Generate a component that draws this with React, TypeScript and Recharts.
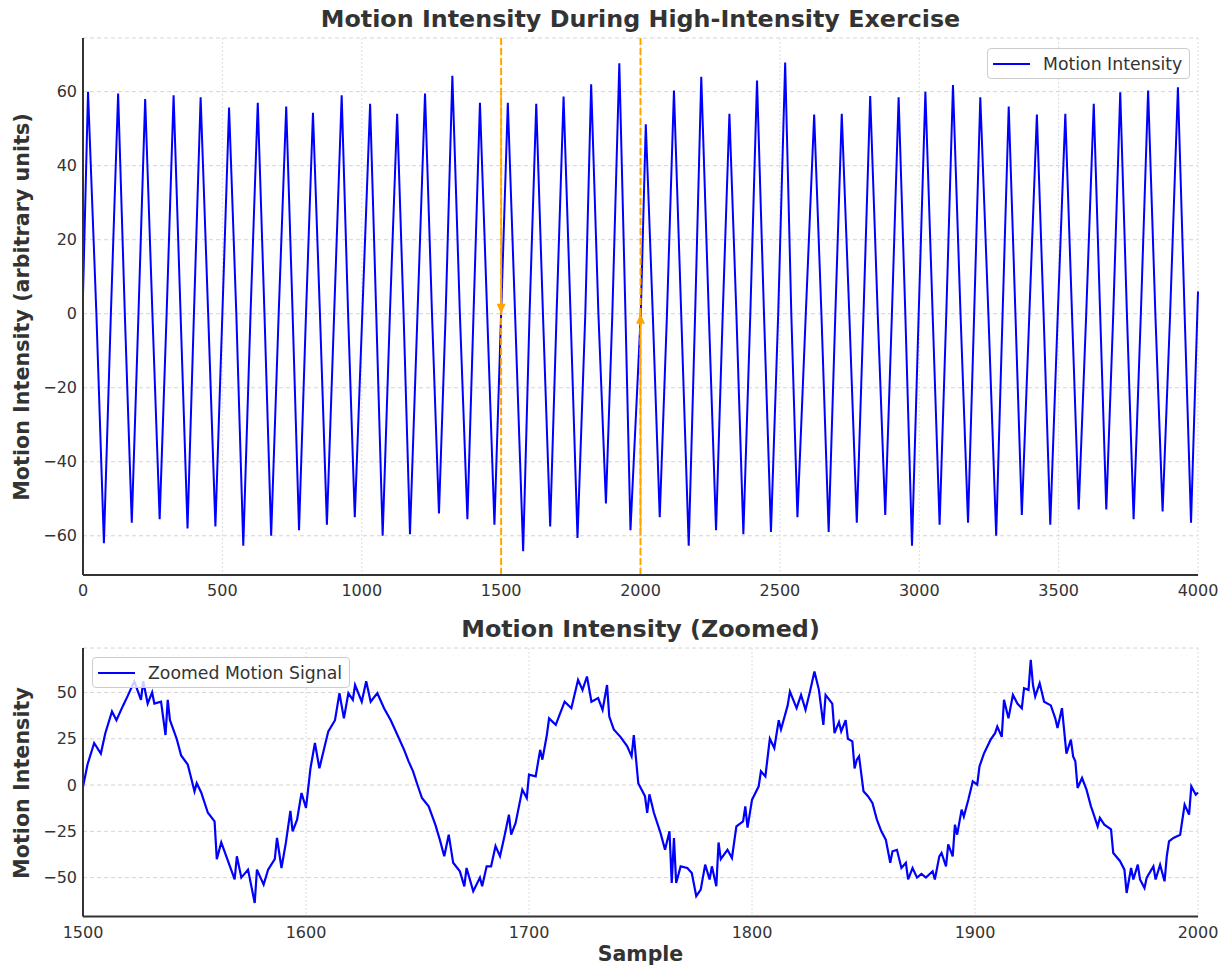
import React from 'react';
import {
  LineChart,
  Line,
  XAxis,
  YAxis,
  CartesianGrid,
  ReferenceLine,
  Legend,
} from 'recharts';

// Full session: one peak and one trough per stroke
const overviewPeakSample = [
  18, 126, 223, 325, 422, 524, 627, 729, 825, 928,
  1030, 1127, 1227, 1325, 1424, 1524, 1626, 1724, 1823, 1924,
  2019, 2120, 2218, 2319, 2418, 2519, 2623, 2722, 2824, 2926,
  3022, 3121, 3219, 3321, 3422, 3524, 3626, 3721, 3821, 3928,
];
const overviewPeakValue = [
  60, 59.5, 58, 59, 58.5, 55.7, 57, 56, 54.3, 59,
  56.7, 54, 59.5, 64.3, 57, 57, 56.7, 58.7, 62, 67.7,
  51.2, 60.3, 64, 54, 63, 67.9, 53.8, 54, 58.8, 58.5,
  60, 61.8, 58.5, 56, 53.8, 54, 56.7, 59.8, 60.3, 61.2,
];
const overviewTroughSample = [
  75, 175, 275, 375, 475, 575, 675, 775, 875, 975,
  1075, 1173, 1277, 1379, 1476, 1579, 1676, 1774, 1876, 1964,
  2069, 2173, 2271, 2369, 2468, 2563, 2675, 2776, 2878, 2974,
  3073, 3175, 3276, 3368, 3470, 3572, 3671, 3769, 3873, 3975,
];
const overviewTroughValue = [
  -62, -56.5, -55.5, -58, -57.5, -62.7, -60, -58.5, -57, -55,
  -60, -59.6, -54, -55.5, -57, -64.2, -57.5, -60.6, -51.3, -58.5,
  -55, -62.7, -58.5, -59.6, -59, -55, -59, -56.5, -54.4, -62.7,
  -57, -56.5, -60, -54.4, -57, -52.9, -52.9, -55.5, -53.4, -56.5,
];
// where the trace passes through zero between the extremes
const overviewZeroSample = [
  48, 100, 150, 199, 249, 300, 350, 398, 449, 500,
  550, 601, 651, 702, 752, 800, 850, 901, 951, 1002,
  1052, 1101, 1150, 1200, 1252, 1301, 1352, 1401, 1450, 1500,
  1550, 1602, 1650, 1699, 1749, 1802, 1849, 1899, 1946, 2001,
  2044, 2095, 2146, 2196, 2245, 2295, 2344, 2394, 2443, 2494,
  2541, 2593, 2649, 2699, 2749, 2800, 2851, 2902, 2950, 2998,
  3048, 3097, 3148, 3197, 3248, 3299, 3345, 3395, 3446, 3497,
  3548, 3599, 3649, 3696, 3745, 3795, 3847, 3900, 3952,
];
const overviewEndSample = [0, 4000];
const overviewEndValue = [5, 6];

// Zoomed window 1500-2000
const zoomSample = [
  1500, 1502, 1505, 1508, 1510, 1513, 1515, 1518, 1520, 1523,
  1526, 1527, 1529, 1531, 1532, 1535, 1537, 1538, 1539, 1542,
  1544, 1547, 1550, 1551, 1553, 1556, 1559, 1560, 1562, 1565,
  1568, 1569, 1571, 1574, 1577, 1578, 1581, 1583, 1586, 1587,
  1589, 1591, 1593, 1594, 1596, 1598, 1600, 1602, 1604, 1606,
  1608, 1610, 1613, 1615, 1617, 1619, 1621, 1622, 1625, 1627,
  1629, 1632, 1635, 1638, 1641, 1644, 1646, 1648, 1650, 1652,
  1655, 1658, 1660, 1662, 1664, 1666, 1669, 1671, 1672, 1675,
  1678, 1679, 1681, 1683, 1685, 1687, 1689, 1691, 1692, 1694,
  1697, 1699, 1700, 1703, 1705, 1706, 1708, 1709, 1712, 1714,
  1716, 1719, 1722, 1724, 1726, 1728, 1731, 1733, 1735, 1736,
  1738, 1741, 1744, 1746, 1747, 1749, 1752, 1753, 1754, 1756,
  1759, 1761, 1763, 1764, 1765, 1766, 1768, 1771, 1773, 1775,
  1777, 1779, 1781, 1782, 1784, 1785, 1786, 1789, 1791, 1793,
  1796, 1797, 1798, 1800, 1803, 1804, 1806, 1808, 1810, 1812,
  1813, 1816, 1817, 1820, 1822, 1824, 1826, 1828, 1830, 1832,
  1833, 1836, 1837, 1839, 1840, 1842, 1843, 1845, 1846, 1847,
  1848, 1850, 1852, 1854, 1856, 1858, 1860, 1862, 1863, 1865,
  1867, 1869, 1870, 1872, 1874, 1876, 1878, 1881, 1882, 1884,
  1885, 1887, 1888, 1890, 1891, 1892, 1894, 1895, 1897, 1899,
  1901, 1902, 1904, 1907, 1909, 1910, 1912, 1913, 1915, 1917,
  1919, 1921, 1922, 1924, 1925, 1926, 1927, 1929, 1931, 1934,
  1936, 1937, 1939, 1941, 1943, 1944, 1945, 1946, 1948, 1950,
  1952, 1953, 1955, 1956, 1958, 1961, 1962, 1965, 1967, 1968,
  1970, 1971, 1973, 1974, 1976, 1977, 1980, 1981, 1983, 1985,
  1986, 1987, 1989, 1992, 1994, 1996, 1997, 1999, 2000,
];
const zoomValue = [
  -1, 11, 22.7, 17, 28, 39.7, 35, 43, 48, 56,
  46, 56, 44, 50, 44, 45, 27, 46, 35, 25,
  16, 11, -3.4, 1, -4, -15, -19.6, -40, -31, -41,
  -51, -38.5, -50, -45.7, -63.7, -45.7, -53.8, -45.7, -40, -28.6,
  -44.8, -31, -14, -25, -18.7, -4.3, -12.4, 9, 22.7, 9,
  19, 29, 35, 49.6, 36, 49.6, 46, 54, 45, 56,
  45, 49.6, 41.5, 35, 27, 19, 12.8, 7.4, 0, -7,
  -11.5, -21.4, -29.5, -38.5, -26.8, -42, -46.6, -54.7, -44.8, -57.4,
  -50, -54.7, -43.9, -43.9, -33, -38.5, -27.7, -16, -26.8, -20.5,
  -2.5, -7, 5.6, 4.7, 19, 13.7, 27, 36, 32.5, 38.8,
  45, 41.5, 56.8, 51.4, 58.6, 45, 47, 40.6, 54, 37,
  30, 26, 21, 15.5, 27, 1, -6, -15, -5, -15,
  -26, -35, -25, -52.9, -28.6, -52.9, -43.9, -44.8, -47.5, -60,
  -56.5, -43, -51, -43.9, -54.7, -31, -40, -35, -39.4, -22.3,
  -19.6, -11.5, -23, -8, -0.7, 7.4, 4.7, 25, 20, 35,
  30, 43, 50.5, 41.5, 48.7, 40.6, 50.5, 61.3, 51.4, 32.5,
  48.7, 44, 28, 34, 29, 35, 25, 23.6, 9, 13.7,
  15.5, -3.4, -6, -9.7, -18.7, -25, -29.5, -42, -35.8, -35,
  -44.8, -42, -51, -44.8, -50, -48, -50, -46.6, -51, -38.5,
  -36.7, -43.9, -32, -38.5, -21.4, -26.8, -13.3, -17, -8, 2,
  0.2, 10, 17, 24.5, 28, 31.6, 26, 46, 36, 48.7,
  44, 41.5, 52.3, 51.4, 67.6, 54, 47.8, 55, 45, 43,
  36, 30.8, 41.5, 17, 24.5, 15.5, 12.8, -1.6, 3.8, -2.5,
  -11.5, -15, -22.3, -17.8, -21.4, -24, -36.7, -41, -45.7, -58.3,
  -44.8, -51, -43, -51, -55.6, -50, -43.9, -51, -43, -52,
  -38.5, -30.4, -28.6, -26.8, -10.6, -16, -0.7, -5.2, -4,
];

const overviewXTicks = [0, 500, 1000, 1500, 2000, 2500, 3000, 3500, 4000];
const overviewYTicks = [-60, -40, -20, 0, 20, 40, 60];
const zoomXTicks = [1500, 1600, 1700, 1800, 1900, 2000];
const zoomYTicks = [-50, -25, 0, 25, 50];
const markedSamples = [1500, 2000];

const overviewData = [
  ...overviewEndSample.map((s, i) => ({ sample: s, value: overviewEndValue[i] })),
  ...overviewPeakSample.map((s, i) => ({ sample: s, value: overviewPeakValue[i] })),
  ...overviewTroughSample.map((s, i) => ({ sample: s, value: overviewTroughValue[i] })),
  ...overviewZeroSample.map((s) => ({ sample: s, value: 0 })),
].sort((a, b) => a.sample - b.sample);

const zoomData = zoomSample.map((s, i) => ({ sample: s, value: zoomValue[i] }));

const FONT = "'DejaVu Sans', sans-serif";
const INK = '#333333';
const BLUE = '#0000ff';
const ORANGE = '#ffa500';

const tickStyle = { fontSize: 16, fill: INK, fontFamily: FONT };
const minus = (v: number) => (v < 0 ? `\u2212${-v}` : `${v}`);

// solid shaft with a filled head, drawn from the reference segment's own pixel ends
const ArrowShape = (props: any) => {
  const { x1, y1, x2, y2 } = props;
  const dir = y2 > y1 ? 1 : -1;
  const head = 10;
  return (
    <g>
      <line x1={x1} y1={y1} x2={x2} y2={y2 - dir * head} stroke={ORANGE} strokeWidth={1.6} />
      <polygon
        points={`${x2},${y2} ${x2 - 4.5},${y2 - dir * head} ${x2 + 4.5},${y2 - dir * head}`}
        fill={ORANGE}
      />
    </g>
  );
};

const legendBox = (label: string) => () => (
  <div
    style={{
      display: 'inline-flex',
      alignItems: 'center',
      height: 29,
      padding: '0 7px 0 5px',
      border: '1px solid #cccccc',
      borderRadius: 4,
      background: 'rgba(255,255,255,0.8)',
      fontFamily: FONT,
      fontSize: 17.3,
      color: INK,
      whiteSpace: 'nowrap',
    }}
  >
    <svg width={37} height={10} style={{ display: 'block' }}>
      <line x1={0} y1={5} x2={37} y2={5} stroke={BLUE} strokeWidth={2} />
    </svg>
    <span style={{ marginLeft: 13 }}>{label}</span>
  </div>
);

export default function App() {
  return (
    <div
      style={{
        position: 'absolute',
        left: 0,
        top: 0,
        width: 1227,
        height: 969,
        background: '#fff',
        fontFamily: FONT,
      }}
    >
      <div style={{ position: 'absolute', left: 0, top: 0 }}>
        <LineChart
          width={1227}
          height={600}
          data={overviewData}
          margin={{ top: 38, right: 29, bottom: 0, left: 23 }}
        >
          <CartesianGrid vertical={false} stroke="#d4d4d4" strokeDasharray="4 3" />
          <CartesianGrid horizontal={false} stroke="#dcdcdc" strokeDasharray="2 2" />
          <XAxis
            type="number"
            dataKey="sample"
            domain={[0, 4000]}
            ticks={overviewXTicks}
            height={25}
            tick={tickStyle}
            tickLine={false}
            tickSize={0}
            tickMargin={10}
            axisLine={{ stroke: INK, strokeWidth: 2 }}
          />
          <YAxis
            type="number"
            domain={[-70.6, 74.5]}
            ticks={overviewYTicks}
            width={60}
            tick={tickStyle}
            tickFormatter={minus}
            tickLine={false}
            tickSize={0}
            tickMargin={6}
            axisLine={{ stroke: INK, strokeWidth: 2 }}
            allowDataOverflow
          />
          <Line
            type="linear"
            dataKey="value"
            stroke={BLUE}
            strokeWidth={2}
            dot={false}
            isAnimationActive={false}
          />
          {markedSamples.map((s) => (
            <ReferenceLine
              key={`mark-${s}`}
              x={s}
              stroke={ORANGE}
              strokeWidth={2}
              strokeDasharray="7 3"
            />
          ))}
          <ReferenceLine
            segment={[{ x: 1500, y: 60 }, { x: 1500, y: 0 }]}
            shape={ArrowShape}
          />
          <ReferenceLine
            segment={[{ x: 2000, y: -60 }, { x: 2000, y: 0 }]}
            shape={ArrowShape}
          />
          <Legend
            layout="horizontal"
            align="center"
            verticalAlign="middle"
            content={legendBox('Motion Intensity')}
            wrapperStyle={{ left: 987, top: 48, width: 'auto', height: 'auto' }}
          />
        </LineChart>
      </div>

      <div style={{ position: 'absolute', left: 0, top: 600 }}>
        <LineChart
          width={1227}
          height={369}
          data={zoomData}
          margin={{ top: 48, right: 29, bottom: 0, left: 23 }}
        >
          <CartesianGrid vertical={false} stroke="#d4d4d4" strokeDasharray="4 3" />
          <CartesianGrid horizontal={false} stroke="#dcdcdc" strokeDasharray="2 2" />
          <XAxis
            type="number"
            dataKey="sample"
            domain={[1500, 2000]}
            ticks={zoomXTicks}
            height={52.5}
            tick={tickStyle}
            tickLine={false}
            tickSize={0}
            tickMargin={10}
            axisLine={{ stroke: INK, strokeWidth: 2 }}
          />
          <YAxis
            type="number"
            domain={[-71, 74]}
            ticks={zoomYTicks}
            width={60}
            tick={tickStyle}
            tickFormatter={minus}
            tickLine={false}
            tickSize={0}
            tickMargin={6}
            axisLine={{ stroke: INK, strokeWidth: 2 }}
            allowDataOverflow
          />
          <Line
            type="linear"
            dataKey="value"
            stroke={BLUE}
            strokeWidth={2.2}
            dot={false}
            isAnimationActive={false}
          />
          <Legend
            layout="horizontal"
            align="center"
            verticalAlign="middle"
            content={legendBox('Zoomed Motion Signal')}
            wrapperStyle={{ left: 92, top: 57, width: 'auto', height: 'auto' }}
          />
        </LineChart>
      </div>

      <svg
        width={1227}
        height={969}
        style={{ position: 'absolute', left: 0, top: 0, pointerEvents: 'none' }}
        fontFamily={FONT}
        fill={INK}
      >
        <text x={640.5} y={27} textAnchor="middle" fontSize={23.8} fontWeight="bold">
          Motion Intensity During High-Intensity Exercise
        </text>
        <text
          transform="translate(29,307) rotate(-90)"
          textAnchor="middle"
          fontSize={20.7}
          fontWeight="bold"
        >
          Motion Intensity (arbitrary units)
        </text>
        <text x={640.5} y={637} textAnchor="middle" fontSize={23.8} fontWeight="bold">
          Motion Intensity (Zoomed)
        </text>
        <text
          transform="translate(29,783) rotate(-90)"
          textAnchor="middle"
          fontSize={20.7}
          fontWeight="bold"
        >
          Motion Intensity
        </text>
        <text x={640.5} y={961} textAnchor="middle" fontSize={20.5} fontWeight="bold">
          Sample
        </text>
      </svg>
    </div>
  );
}
